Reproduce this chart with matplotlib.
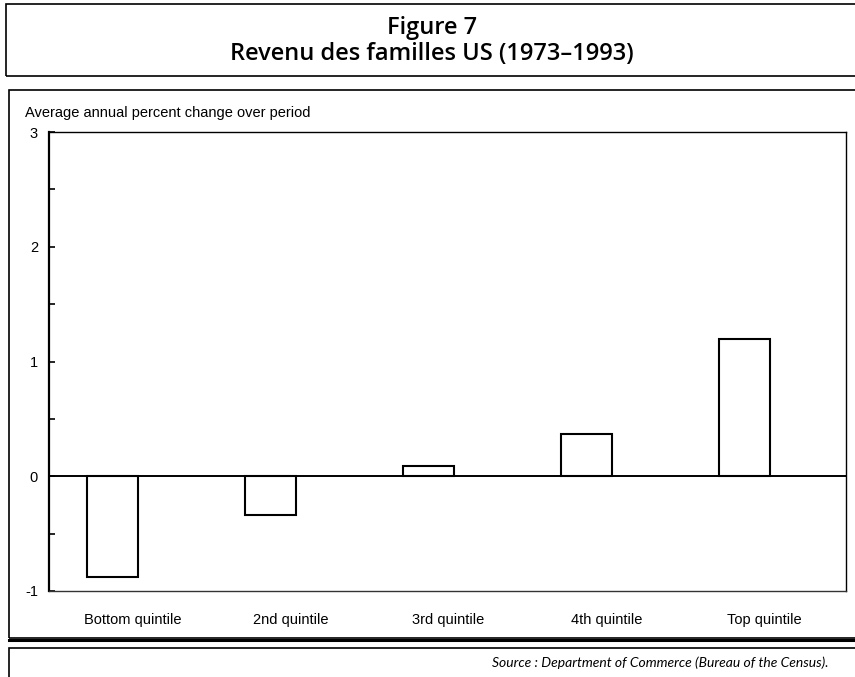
import numpy as np
import matplotlib.pyplot as plt
from matplotlib.patches import Rectangle
from matplotlib.transforms import ScaledTranslation

# data
quintiles = ["Bottom quintile", "2nd quintile", "3rd quintile", "4th quintile", "Top quintile"]
pct_change = [-0.88, -0.34, 0.09, 0.37, 1.20]
y_ticks = [-1, 0, 1, 2, 3]
y_minor = [-0.5, 0.5, 1.5, 2.5]

W, H = 855, 677
fig = plt.figure(figsize=(W / 100, H / 100), dpi=100)


def px_rect(x0, y0, x1, y1, lw=1.2):
    # rectangle given in pixel coords (top-left origin)
    r = Rectangle((x0 / W, 1 - y1 / H), (x1 - x0) / W, (y1 - y0) / H,
                  transform=fig.transFigure, fill=False, edgecolor="black",
                  linewidth=lw, clip_on=False)
    fig.add_artist(r)


# frame boxes
px_rect(6, 4, 870, 76)
px_rect(9, 90, 870, 638)
fig.add_artist(plt.Line2D([9 / W, 1.02], [1 - 640 / H, 1 - 640 / H],
                          transform=fig.transFigure, color="black", lw=2.2))
px_rect(9, 648, 870, 700)

title_font = ["Open Sans", "DejaVu Sans"]
fig.text(432 / W, 1 - 28 / H, "Figure 7", ha="center", va="center",
         fontsize=17, family=title_font, fontweight="semibold")
fig.text(432 / W, 1 - 54 / H, "Revenu des familles US (1973\u20131993)", ha="center",
         va="center", fontsize=17, family=title_font, fontweight="semibold")

fig.text(25 / W, 1 - 113 / H, "Average annual percent change over period",
         ha="left", va="center", fontsize=10.5, family="Liberation Sans")

fig.text(828 / W, 1 - 663 / H, "Source : Department of Commerce (Bureau of the Census).",
         ha="right", va="center", fontsize=10,
         family=["Lato", "DejaVu Sans"], style="italic")

# axes
ax = fig.add_axes([49 / W, 1 - 591 / H, (846 - 49) / W, (591 - 132) / H])
x = np.arange(len(quintiles))
ax.bar(x, pct_change, width=0.32, facecolor="white", edgecolor="black", linewidth=1.5)
ax.axhline(0, color="black", lw=1.4)

ax.set_xlim(-0.40, 4.64)
ax.set_ylim(-1, 3)
ax.set_yticks(y_ticks)
ax.set_yticks(y_minor, minor=True)
ax.set_yticklabels([str(v) for v in y_ticks], family="Liberation Sans", fontsize=10.5)
ax.tick_params(axis="y", which="both", direction="in", length=4, width=1.2, pad=8)
ax.set_xticks(x)
ax.set_xticklabels(quintiles, family="Liberation Sans", fontsize=10.5)
ax.tick_params(axis="x", length=0, pad=16)
# labels sit a little to the right of the bars in the original
shift = ScaledTranslation(20 / 100, 0, fig.dpi_scale_trans)
for lab in ax.get_xticklabels():
    lab.set_transform(lab.get_transform() + shift)

ax.spines["left"].set_linewidth(1.6)
ax.spines["top"].set_linewidth(1.0)
ax.spines["right"].set_linewidth(1.0)
ax.spines["bottom"].set_linewidth(1.0)
ax.spines["bottom"].set_color("#333333")

fig.savefig("out.png", dpi=100)
